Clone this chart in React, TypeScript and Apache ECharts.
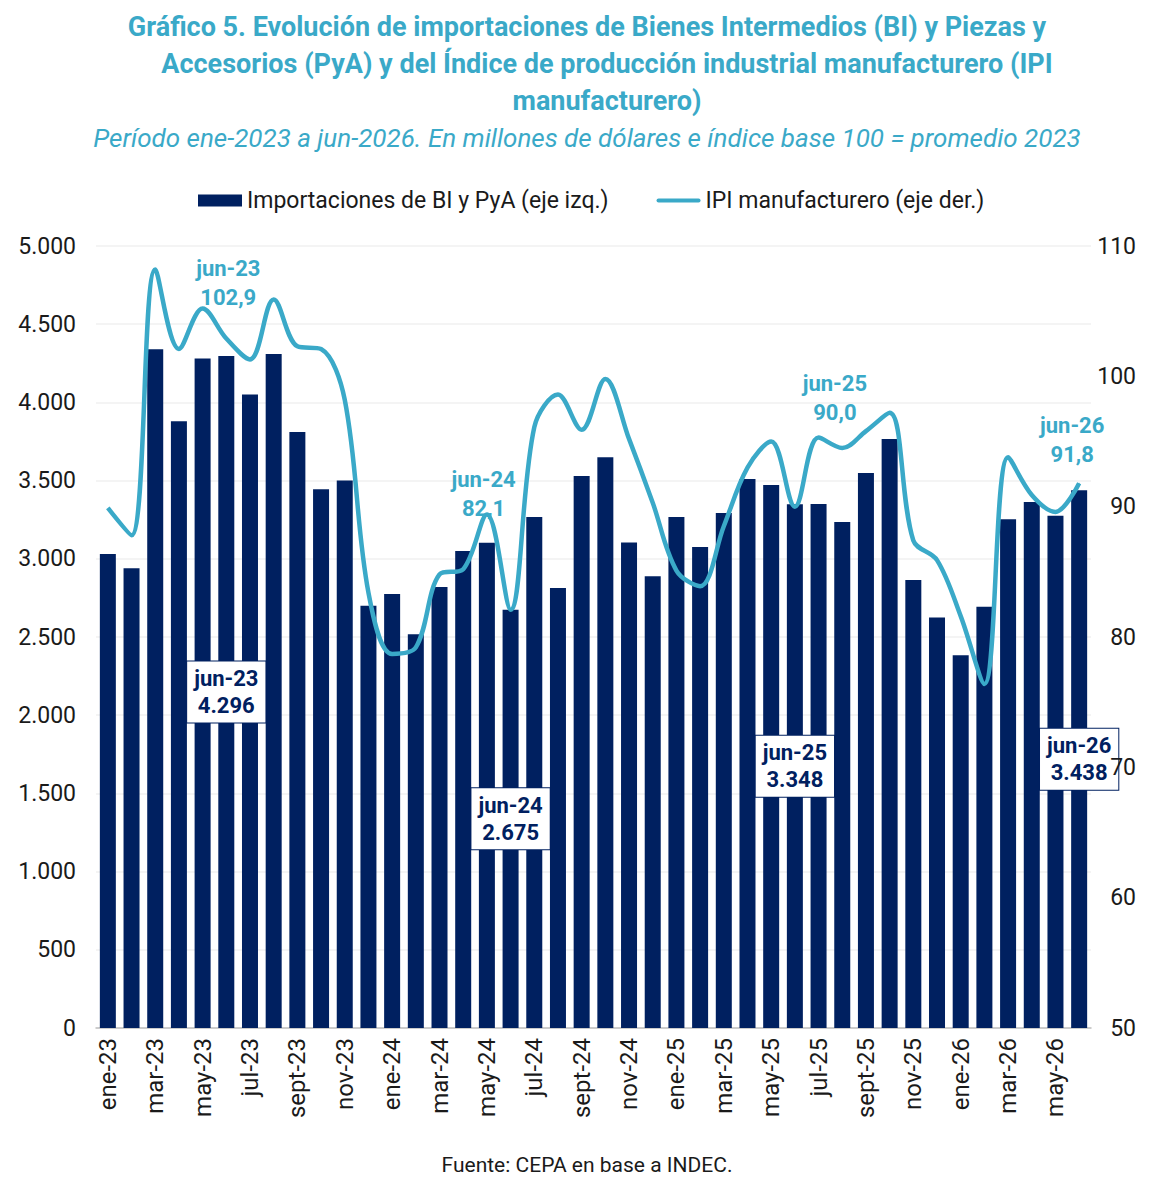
import React, { useEffect, useRef } from 'react';
import * as echarts from 'echarts';

const categories = [
  'ene-23', 'feb-23', 'mar-23', 'abr-23', 'may-23', 'jun-23', 'jul-23', 'ago-23', 'sept-23', 'oct-23', 'nov-23', 'dic-23',
  'ene-24', 'feb-24', 'mar-24', 'abr-24', 'may-24', 'jun-24', 'jul-24', 'ago-24', 'sept-24', 'oct-24', 'nov-24', 'dic-24',
  'ene-25', 'feb-25', 'mar-25', 'abr-25', 'may-25', 'jun-25', 'jul-25', 'ago-25', 'sept-25', 'oct-25', 'nov-25', 'dic-25',
  'ene-26', 'feb-26', 'mar-26', 'abr-26', 'may-26', 'jun-26',
];

const importaciones = [
  3030, 2940, 4340, 3880, 4280, 4296, 4050, 4310, 3810, 3445, 3500, 2700,
  2775, 2517, 2820, 3050, 3103, 2675, 3267, 2813, 3529, 3649, 3105, 2888,
  3267, 3075, 3293, 3510, 3472, 3348, 3350, 3235, 3549, 3766, 2865, 2624,
  2383, 2694, 3253, 3363, 3276, 3438,
];

const ipiManufacturero = [
  89.9, 87.8, 108.2, 102.1, 105.2, 102.9, 101.3, 105.9, 102.3, 102.1, 98.2, 83.4,
  78.7, 79.2, 84.8, 85.2, 89.4, 82.1, 96.1, 98.6, 95.9, 99.8, 95.2, 90.3,
  85.1, 83.9, 88.5, 93.0, 95.0, 90.0, 95.3, 94.5, 95.8, 97.2, 87.4, 85.9,
  81.6, 76.4, 93.8, 90.9, 89.6, 91.8,
];

const highlighted = ['jun-23', 'jun-24', 'jun-25', 'jun-26'];
// label placement for the line annotations: [dx, distance above point]
const lineLabelPlacement = [
  [2, 26],
  [-27, 86],
  [40, 79],
  [-7, 14],
];

const NAVY = '#002060';
const CYAN = '#3aa9c8';
const FONT = 'Roboto';
const BAR_NAME = 'Importaciones de BI y PyA (eje izq.)';
const LINE_NAME = 'IPI manufacturero (eje der.)';

const fmtThousands = (v: number) =>
  Math.round(v).toString().replace(/\B(?=(\d{3})+(?!\d))/g, '.');

export default function App() {
  const ref = useRef<HTMLDivElement>(null);

  useEffect(() => {
    if (!ref.current) return;
    const chart = echarts.init(ref.current, undefined, { renderer: 'svg' });

    const barData = importaciones.map((v, i) => {
      const h = highlighted.indexOf(categories[i]);
      if (h < 0) return v;
      return {
        value: v,
        label: {
          show: true,
          position: 'inside',
          formatter: `${categories[i]}\n${fmtThousands(v)}`,
          backgroundColor: '#ffffff',
          borderColor: NAVY,
          borderWidth: 1,
          padding: [4, 7, 3, 7],
          color: NAVY,
          fontWeight: 'bold',
          fontSize: 22,
          lineHeight: 27,
          fontFamily: FONT,
        },
      };
    });

    const lineData = ipiManufacturero.map((v, i) => {
      const h = highlighted.indexOf(categories[i]);
      if (h < 0) return v;
      const [dx, dist] = lineLabelPlacement[h];
      return {
        value: v,
        symbol: 'circle',
        symbolSize: 1,
        label: {
          show: true,
          position: 'top',
          distance: dist,
          offset: [dx, 0],
          formatter: `${categories[i]}\n${v.toFixed(1).replace('.', ',')}`,
          color: CYAN,
          fontWeight: 'bold',
          fontSize: 22,
          lineHeight: 29,
          fontFamily: FONT,
        },
      };
    });

    const titleFont = { fontFamily: FONT, fontWeight: 'bold', fontSize: 27, fill: CYAN };

    chart.setOption({
      animation: false,
      textStyle: { fontFamily: FONT },
      graphic: [
        { type: 'text', x: 587, y: 27, style: { ...titleFont, text: 'Gráfico 5. Evolución de importaciones de Bienes Intermedios (BI) y Piezas y', textAlign: 'center', textVerticalAlign: 'middle' } },
        { type: 'text', x: 607, y: 64, style: { ...titleFont, text: 'Accesorios (PyA) y del Índice de producción industrial manufacturero (IPI', textAlign: 'center', textVerticalAlign: 'middle' } },
        { type: 'text', x: 607, y: 101, style: { ...titleFont, text: 'manufacturero)', textAlign: 'center', textVerticalAlign: 'middle' } },
        { type: 'text', x: 587, y: 138, style: { fontFamily: FONT, fontStyle: 'italic', fontSize: 26, fill: CYAN, text: 'Período ene-2023 a jun-2026. En millones de dólares e índice base 100 = promedio 2023', textAlign: 'center', textVerticalAlign: 'middle' } },
        { type: 'text', x: 587, y: 1165, style: { fontFamily: FONT, fontSize: 21, fill: '#1a1a1a', text: 'Fuente: CEPA en base a INDEC.', textAlign: 'center', textVerticalAlign: 'middle' } },
      ],
      legend: {
        top: 184,
        left: 193,
        itemWidth: 44,
        itemHeight: 12,
        itemGap: 48,
        textStyle: { fontSize: 23, color: '#1a1a1a', fontFamily: FONT },
        data: [
          { name: BAR_NAME, icon: 'rect' },
          { name: LINE_NAME, icon: 'path://M2,0 L42,0 A2,2 0 0 1 42,4 L2,4 A2,2 0 0 1 2,0 Z' },
        ],
      },
      grid: { left: 96, right: 83, top: 246, bottom: 156 },
      xAxis: {
        type: 'category',
        data: categories,
        boundaryGap: true,
        axisLine: { lineStyle: { color: '#bfbfbf', width: 1.5 } },
        axisTick: { interval: 1, length: 6, lineStyle: { color: '#bfbfbf', width: 1.5 } },
        axisLabel: { interval: 1, rotate: 90, fontSize: 24, color: '#1a1a1a', margin: 10, fontFamily: FONT },
      },
      yAxis: [
        {
          type: 'value',
          min: 0,
          max: 5000,
          interval: 500,
          axisLine: { show: false },
          axisTick: { show: false },
          axisLabel: { formatter: (v: number) => fmtThousands(v), fontSize: 23, color: '#1a1a1a', margin: 20, fontFamily: FONT },
          splitLine: { lineStyle: { color: '#f0f0f0', width: 1.5 } },
        },
        {
          type: 'value',
          min: 50,
          max: 110,
          interval: 10,
          position: 'right',
          z: 20,
          axisLine: { show: false },
          axisTick: { show: false },
          axisLabel: { fontSize: 23, color: '#1a1a1a', margin: 45, align: 'right', fontFamily: FONT },
          splitLine: { show: false },
        },
      ],
      series: [
        {
          name: BAR_NAME,
          type: 'bar',
          data: barData,
          barWidth: 16,
          itemStyle: { color: NAVY },
          z: 2,
        },
        {
          name: LINE_NAME,
          type: 'line',
          yAxisIndex: 1,
          data: lineData,
          smooth: 0.35,
          symbol: 'none',
          showSymbol: true,
          lineStyle: { color: CYAN, width: 4.5 },
          itemStyle: { color: CYAN },
          z: 3,
        },
      ],
    });

    return () => chart.dispose();
  }, []);

  return (
    <div
      ref={ref}
      style={{ position: 'absolute', left: 0, top: 0, width: 1174, height: 1184, background: '#ffffff' }}
    />
  );
}
